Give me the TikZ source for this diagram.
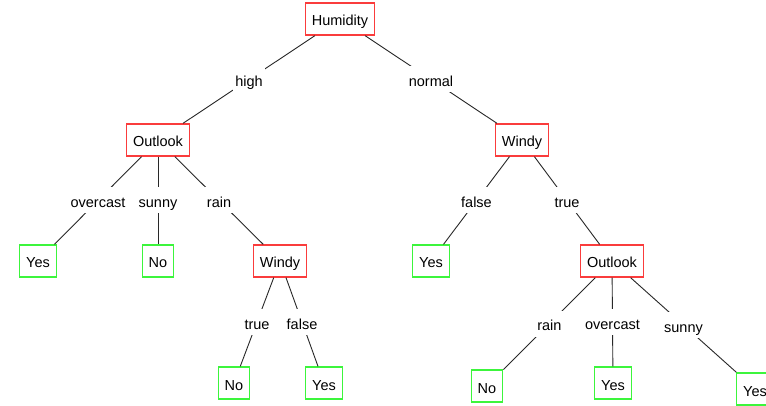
\documentclass[tikz,border=0pt]{standalone}
\usepackage{fontspec}
\setmainfont{Liberation Sans}
\definecolor{splitred}{RGB}{250,60,60}
\definecolor{leafgreen}{RGB}{60,245,60}
\definecolor{edgegray}{RGB}{40,40,40}
\tikzset{
  treebox/.style={draw, line width=1.3pt, fill=white, minimum height=32pt,
    inner xsep=6.5pt, text height=14pt, text depth=0pt,
    font=\fontsize{14.5}{17}\selectfont},
  split/.style={treebox, draw=splitred},
  leaf/.style={treebox, draw=leafgreen},
  branch/.style={fill=white, inner xsep=2pt, inner ysep=6pt,
    text height=14pt, text depth=0pt, font=\fontsize{14.5}{17}\selectfont},
  edge/.style={draw=edgegray, line width=0.9pt}
}
\begin{document}
\begin{tikzpicture}[x=1pt,y=-1pt]
\useasboundingbox[fill=white] (0,0) rectangle (766,406);
% inner nodes
\node[split] (hum)  at (340,19)  {Humidity};
\node[split] (out1) at (158,140) {Outlook};
\node[split] (win2) at (522,140) {Windy};
\node[split] (win1) at (280,261) {Windy};
\node[split] (out2) at (612,261) {Outlook};
% leaves
\node[leaf] (y1) at (38,261)  {Yes};
\node[leaf] (n1) at (158,261) {No};
\node[leaf] (n2) at (234,383) {No};
\node[leaf] (y2) at (324,383) {Yes};
\node[leaf] (y3) at (431,261) {Yes};
\node[leaf] (n3) at (487,386) {No};
\node[leaf] (y4) at (613,383) {Yes};
\node[leaf] (y5) at (755,389) {Yes};
% branches with their values
\draw[edge] (hum)  -- node[branch] {high}     (out1);
\draw[edge] (hum)  -- node[branch] {normal}   (win2);
\draw[edge] (out1) -- node[branch] {overcast} (y1);
\draw[edge] (out1) -- node[branch] {sunny}    (n1);
\draw[edge] (out1) -- node[branch] {rain}     (win1);
\draw[edge] (win1) -- node[branch] {true}     (n2);
\draw[edge] (win1) -- node[branch] {false}    (y2);
\draw[edge] (win2) -- node[branch] {false}    (y3);
\draw[edge] (win2) -- node[branch] {true}     (out2);
\draw[edge] (out2) -- node[branch] {rain}     (n3);
\draw[edge] (out2) -- node[branch] {overcast} (y4);
\draw[edge] (out2) -- node[branch] {sunny}    (y5);
\end{tikzpicture}
\end{document}
